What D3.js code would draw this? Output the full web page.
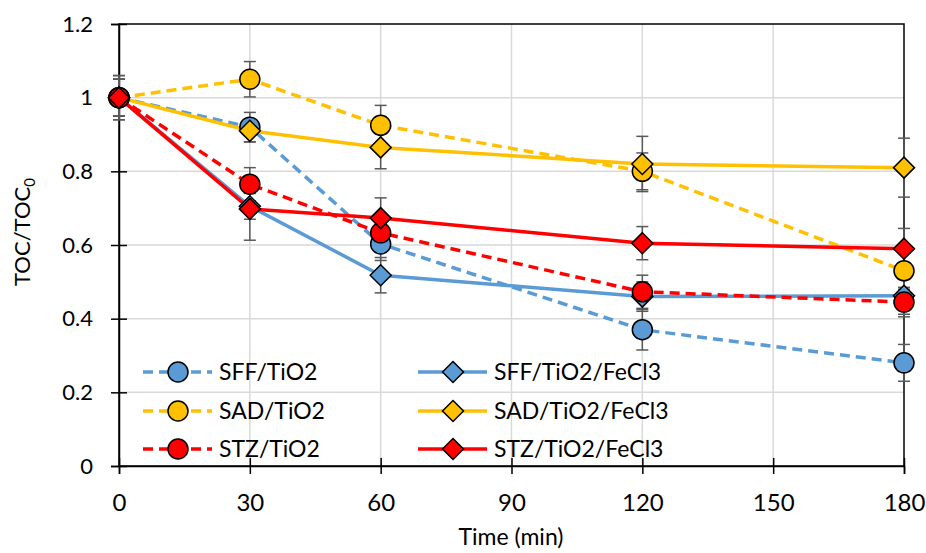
<!DOCTYPE html>
<html>
<head>
<meta charset="utf-8">
<script src="https://cdn.jsdelivr.net/npm/d3@7"></script>
<style>
  html, body { margin: 0; padding: 0; background: #fff; }
  svg { display: block; font-family: Lato, "Open Sans", sans-serif; }
</style>
</head>
<body>
<svg id="chart" width="926" height="553"></svg>
<script>
// Sampling times (min)
const times = [0, 30, 60, 120, 180];

// TOC/TOC0 per system, with error bar half-widths
const sffTiO2      = [1.00, 0.920, 0.603, 0.370, 0.280];
const sffTiO2Err   = [0.060, 0.040, 0.045, 0.055, 0.050];
const sffTiO2Fe    = [1.00, 0.705, 0.518, 0.460, 0.462];
const sffTiO2FeErr = [0.050, 0.035, 0.048, 0.040, 0.050];
const sadTiO2      = [1.00, 1.050, 0.925, 0.800, 0.530];
const sadTiO2Err   = [0.050, 0.048, 0.054, 0.050, 0.050];
const sadTiO2Fe    = [1.00, 0.910, 0.865, 0.820, 0.810];
const sadTiO2FeErr = [0.050, 0.030, 0.058, 0.075, 0.080];
const stzTiO2      = [1.00, 0.765, 0.633, 0.473, 0.445];
const stzTiO2Err   = [0.060, 0.045, 0.040, 0.045, 0.040];
const stzTiO2Fe    = [1.00, 0.698, 0.673, 0.605, 0.590];
const stzTiO2FeErr = [0.050, 0.085, 0.055, 0.045, 0.055];

const seriesNames = ["SFF/TiO2", "SFF/TiO2/FeCl3", "SAD/TiO2", "SAD/TiO2/FeCl3", "STZ/TiO2", "STZ/TiO2/FeCl3"];
const xTicks = [0, 30, 60, 90, 120, 150, 180];
const yTicks = [0, 0.2, 0.4, 0.6, 0.8, 1.0, 1.2];

const BLUE = "#5B9BD5", GOLD = "#FFC000", RED = "#FF0000";
const series = [
  { name: seriesNames[0], values: sffTiO2,   err: sffTiO2Err,   color: BLUE, dashed: true,  marker: "circle" },
  { name: seriesNames[1], values: sffTiO2Fe, err: sffTiO2FeErr, color: BLUE, dashed: false, marker: "diamond" },
  { name: seriesNames[2], values: sadTiO2,   err: sadTiO2Err,   color: GOLD, dashed: true,  marker: "circle" },
  { name: seriesNames[3], values: sadTiO2Fe, err: sadTiO2FeErr, color: GOLD, dashed: false, marker: "diamond" },
  { name: seriesNames[4], values: stzTiO2,   err: stzTiO2Err,   color: RED,  dashed: true,  marker: "circle" },
  { name: seriesNames[5], values: stzTiO2Fe, err: stzTiO2FeErr, color: RED,  dashed: false, marker: "diamond" }
];

const svg = d3.select("#chart");
const plotL = 119, plotR = 904, plotT = 24, plotB = 466;
const x = d3.scaleLinear().domain([0, 180]).range([plotL, plotR]);
const y = d3.scaleLinear().domain([0, 1.2]).range([plotB, plotT]);

// Gridlines
const grid = svg.append("g");
grid.selectAll("line.h").data(yTicks.slice(1, -1)).join("line")
  .attr("x1", plotL).attr("x2", plotR)
  .attr("y1", d => y(d)).attr("y2", d => y(d))
  .attr("stroke", "#d9d9d9").attr("stroke-width", 1.5);
grid.selectAll("line.v").data(xTicks.slice(1, -1)).join("line")
  .attr("y1", plotT).attr("y2", plotB)
  .attr("x1", d => x(d)).attr("x2", d => x(d))
  .attr("stroke", "#d9d9d9").attr("stroke-width", 1.5);

// Frame
svg.append("rect").attr("x", plotL).attr("y", plotT)
  .attr("width", plotR - plotL).attr("height", plotB - plotT)
  .attr("fill", "none").attr("stroke", "#000").attr("stroke-width", 1.5);

// Axes with crossing ticks
const xAxis = svg.append("g").attr("transform", `translate(0,${plotB})`)
  .call(d3.axisBottom(x).tickValues(xTicks).tickSize(8).tickPadding(20).tickFormat(d3.format("d")));
xAxis.selectAll(".tick line").attr("y1", -8);
xAxis.selectAll(".tick text").attr("font-size", 24);
const yAxis = svg.append("g").attr("transform", `translate(${plotL},0)`)
  .call(d3.axisLeft(y).tickValues(yTicks).tickSize(8).tickPadding(18).tickFormat(d => d === 1 ? "1" : d === 0 ? "0" : d3.format(".1f")(d)));
yAxis.selectAll(".tick line").attr("x1", 8);
yAxis.selectAll(".tick text").attr("font-size", 22);
[xAxis, yAxis].forEach(a => {
  a.select(".domain").attr("stroke", "#000").attr("stroke-width", 1.5);
  a.selectAll(".tick line").attr("stroke", "#000").attr("stroke-width", 1.5);
  a.selectAll(".tick text").attr("fill", "#000").attr("font-family", "Lato, sans-serif");
});

// Axis titles
svg.append("text").attr("x", 511).attr("y", 545)
  .attr("text-anchor", "middle").attr("font-size", 23).text("Time (min)");
const yt = svg.append("text").attr("transform", `translate(30,232) rotate(-90)`)
  .attr("text-anchor", "middle").attr("font-size", 22);
yt.append("tspan").text("TOC/TOC");
yt.append("tspan").attr("font-size", 15).attr("dy", 5).text("0");

const line = d3.line().x((d, i) => x(times[i])).y(d => y(d));
const dashArr = "10,6";

function drawMarker(g, type, cx, cy, color) {
  if (type === "circle") {
    g.append("circle").attr("cx", cx).attr("cy", cy).attr("r", 10)
      .attr("fill", color).attr("stroke", "#000").attr("stroke-width", 1.5);
  } else {
    const s = 10.5;
    g.append("path").attr("d", `M${cx},${cy - s}L${cx + s},${cy}L${cx},${cy + s}L${cx - s},${cy}Z`)
      .attr("fill", color).attr("stroke", "#000").attr("stroke-width", 1.5);
  }
}

// Series lines
const linesG = svg.append("g");
series.forEach(s => {
  linesG.append("path").datum(s.values).attr("d", line)
    .attr("fill", "none").attr("stroke", s.color).attr("stroke-width", 3.5)
    .attr("stroke-dasharray", s.dashed ? dashArr : null);
});

// Error bars
const errG = svg.append("g").attr("stroke", "#595959").attr("stroke-width", 1.5);
series.forEach(s => {
  s.values.forEach((v, i) => {
    const cx = x(times[i]), y1 = y(v - s.err[i]), y2 = y(v + s.err[i]);
    errG.append("line").attr("x1", cx).attr("x2", cx).attr("y1", y1).attr("y2", y2);
    errG.append("line").attr("x1", cx - 6).attr("x2", cx + 6).attr("y1", y1).attr("y2", y1);
    errG.append("line").attr("x1", cx - 6).attr("x2", cx + 6).attr("y1", y2).attr("y2", y2);
  });
});

// Markers
const markG = svg.append("g");
series.forEach(s => {
  s.values.forEach((v, i) => drawMarker(markG, s.marker, x(times[i]), y(v), s.color));
});

// Legend: two columns, three rows
const legG = svg.append("g");
const colX = [143, 418], rowY = [372, 411, 449];
series.forEach((s, k) => {
  const col = k % 2, row = Math.floor(k / 2);
  const lx = colX[col], ly = rowY[row];
  legG.append("line").attr("x1", lx).attr("x2", lx + 69).attr("y1", ly).attr("y2", ly)
    .attr("stroke", s.color).attr("stroke-width", 3.5)
    .attr("stroke-dasharray", s.dashed ? "10,6" : null);
  drawMarker(legG, s.marker, lx + 35, ly, s.color);
  legG.append("text").attr("x", lx + 76).attr("y", ly + 8)
    .attr("font-size", 23).attr("fill", "#000").text(s.name);
});
</script>
</body>
</html>
